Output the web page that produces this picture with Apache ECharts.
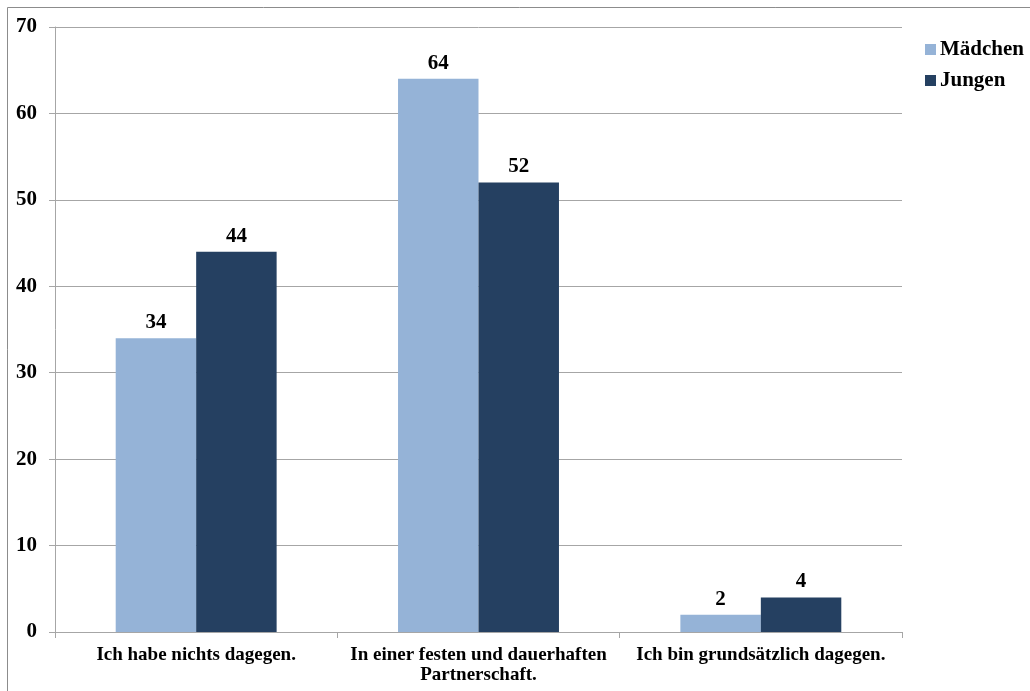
<!DOCTYPE html>
<html>
<head>
<meta charset="utf-8">
<script src="https://cdn.jsdelivr.net/npm/echarts@6/dist/echarts.min.js"></script>
<style>html,body{margin:0;padding:0;background:#fff}#c{width:1030px;height:691px}</style>
</head>
<body>
<div id="c"></div>
<script>
var categories = ['Ich habe nichts dagegen.', 'In einer festen und dauerhaften\nPartnerschaft.', 'Ich bin grundsätzlich dagegen.'];
var maedchen = [34, 64, 2];
var jungen = [44, 52, 4];
var seriesNames = ['Mädchen', 'Jungen'];

var FONT = '"Liberation Serif", "Times New Roman", serif';
var chart = echarts.init(document.getElementById('c'));
chart.setOption({
  animation: false,
  backgroundColor: '#fff',
  graphic: [{
    type: 'rect', silent: true,
    shape: { x: 7.5, y: 7.5, width: 1100, height: 1000 },
    style: { fill: 'none', stroke: '#8c8c8c', lineWidth: 1 }
  }],
  grid: { left: 55, right: 128, top: 27, bottom: 59 },
  legend: {
    orient: 'vertical', left: 925, top: 39, padding: 0,
    itemWidth: 11, itemHeight: 11, itemGap: 10, icon: 'rect',
    textStyle: { fontFamily: FONT, fontWeight: 'bold', fontSize: 21, color: '#000', padding: [0, 0, 0, -1] },
    data: seriesNames
  },
  xAxis: {
    type: 'category', data: categories,
    axisLine: { lineStyle: { color: '#a6a6a6' } },
    axisTick: { show: true, interval: 0, length: 6, lineStyle: { color: '#a6a6a6' } },
    axisLabel: { interval: 0, hideOverlap: false, fontFamily: FONT, fontWeight: 'bold', fontSize: 19, color: '#000', margin: 13, lineHeight: 20 }
  },
  yAxis: {
    type: 'value', min: 0, max: 70, interval: 10,
    axisLine: { show: true, lineStyle: { color: '#a6a6a6' } },
    axisTick: { show: true, length: 6, lineStyle: { color: '#a6a6a6' } },
    splitLine: { lineStyle: { color: '#a6a6a6' } },
    axisLabel: { fontFamily: FONT, fontWeight: 'bold', fontSize: 21, color: '#000', margin: 18 }
  },
  series: [
    { name: seriesNames[0], type: 'bar', data: maedchen, barGap: '0%', barCategoryGap: '43%',
      itemStyle: { color: '#95b3d7' },
      label: { show: true, position: 'top', distance: 5, fontFamily: FONT, fontWeight: 'bold', fontSize: 21, color: '#000' } },
    { name: seriesNames[1], type: 'bar', data: jungen, barGap: '0%', barCategoryGap: '43%',
      itemStyle: { color: '#254061' },
      label: { show: true, position: 'top', distance: 5, fontFamily: FONT, fontWeight: 'bold', fontSize: 21, color: '#000' } }
  ]
});
</script>
</body>
</html>
